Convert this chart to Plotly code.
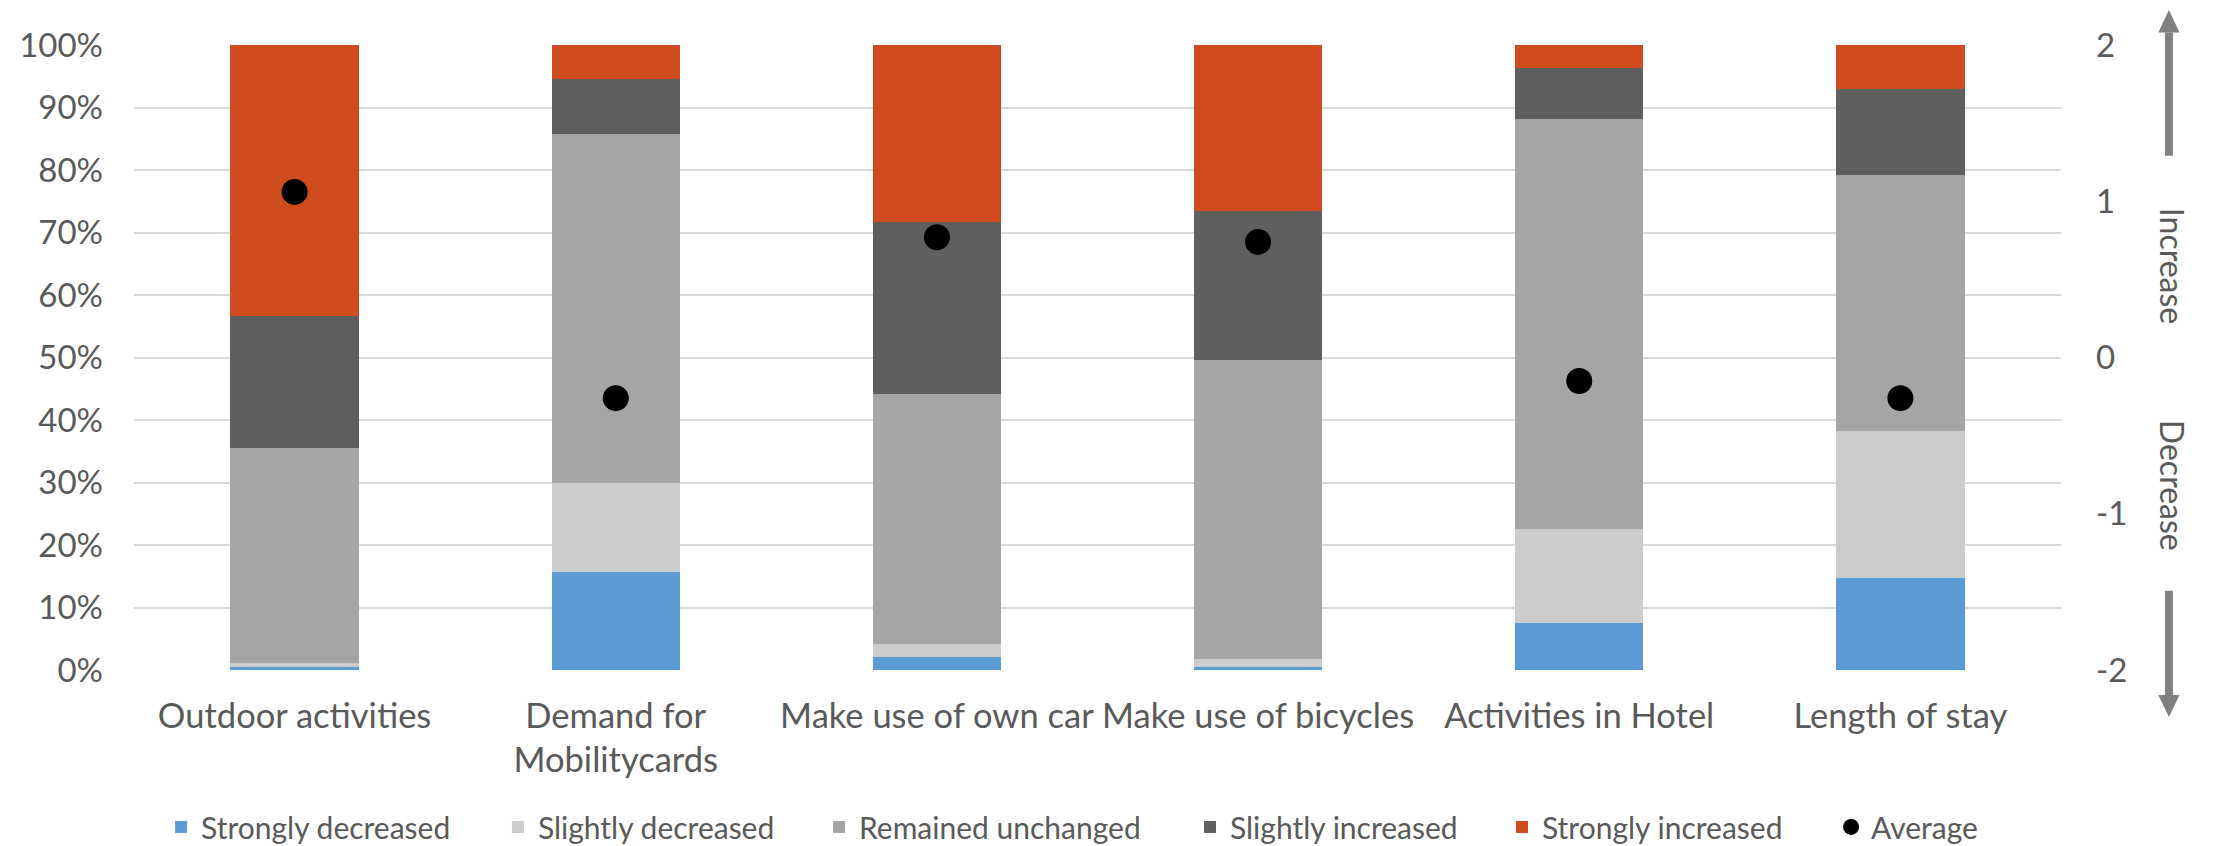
import plotly.graph_objects as go

# Survey categories and response shares (percent of respondents)
categories = ["Outdoor activities", "Demand for<br>Mobilitycards", "Make use of own car",
              "Make use of bicycles", "Activities in Hotel", "Length of stay"]
strongly_decreased = [0.5, 15.7, 2.1, 0.5, 7.6, 14.8]
slightly_decreased = [0.6, 14.3, 2.0, 1.2, 14.9, 23.4]
remained_unchanged = [34.5, 55.7, 40.1, 47.9, 65.6, 41.0]
slightly_increased = [21.0, 8.9, 27.5, 23.8, 8.2, 13.8]
strongly_increased = [43.4, 5.4, 28.3, 26.6, 3.7, 7.0]
# Mean score on a -2 (strongly decreased) .. +2 (strongly increased) scale
average = [1.06, -0.26, 0.77, 0.74, -0.15, -0.26]

left_ticks = [0, 10, 20, 30, 40, 50, 60, 70, 80, 90, 100]
left_tick_labels = ["0%", "10%", "20%", "30%", "40%", "50%", "60%", "70%", "80%", "90%", "100%"]
right_ticks = [-2, -1, 0, 1, 2]
right_tick_labels = ["-2", "-1", "0", "1", "2"]

FONT = "Lato, Open Sans, sans-serif"
TXT = "#595959"

series = [
    ("Strongly decreased", strongly_decreased, "#5B9BD5"),
    ("Slightly decreased", slightly_decreased, "#CBCCCB"),
    ("Remained unchanged", remained_unchanged, "#A5A5A5"),
    ("Slightly increased", slightly_increased, "#5F5F5F"),
    ("Strongly increased", strongly_increased, "#D04C1F"),
]

# One single-entry legend per trace, laid out in a row along the bottom
legend_ids = ["legend", "legend2", "legend3", "legend4", "legend5", "legend6"]
legend_x = [0.0727, 0.2247, 0.3696, 0.5370, 0.6778, 0.8263]

fig = go.Figure()
for (name, vals, color), lg in zip(series, legend_ids):
    fig.add_trace(go.Bar(x=categories, y=vals, name=name, showlegend=True,
                         marker=dict(color=color, line=dict(width=0)),
                         yaxis="y", legend=lg))

fig.add_trace(go.Scatter(x=categories, y=average, name="Average", mode="markers",
                         showlegend=True,
                         marker=dict(color="black", size=26), yaxis="y2",
                         legend=legend_ids[-1]))

# Direction arrows beside the right axis (paper coordinates)
ax = 1.056
arrow_color = "#808080"
shapes = [
    dict(type="line", xref="paper", yref="paper", x0=ax, x1=ax, y0=0.823, y1=1.02,
         line=dict(color=arrow_color, width=8)),
    dict(type="path", xref="paper", yref="paper",
         path=f"M {ax-0.0055},1.02 L {ax+0.0055},1.02 L {ax},1.056 Z",
         fillcolor=arrow_color, line=dict(width=0)),
    dict(type="line", xref="paper", yref="paper", x0=ax, x1=ax, y0=0.127, y1=-0.04,
         line=dict(color=arrow_color, width=8)),
    dict(type="path", xref="paper", yref="paper",
         path=f"M {ax-0.0055},-0.04 L {ax+0.0055},-0.04 L {ax},-0.075 Z",
         fillcolor=arrow_color, line=dict(width=0)),
]

annotations = [
    dict(text="Increase", xref="paper", yref="paper", x=ax + 0.002, y=0.647, showarrow=False,
         xanchor="center", yanchor="middle",
         textangle=90, font=dict(family=FONT, size=32, color=TXT)),
    dict(text="Decrease", xref="paper", yref="paper", x=ax + 0.002, y=0.295, showarrow=False,
         xanchor="center", yanchor="middle",
         textangle=90, font=dict(family=FONT, size=32, color=TXT)),
]

legends = {
    lg: dict(orientation="h", xref="container", yref="container",
             x=lx, xanchor="left", y=0.0225, yanchor="middle",
             font=dict(size=30, color=TXT), bgcolor="rgba(0,0,0,0)")
    for lg, lx in zip(legend_ids, legend_x)
}

fig.update_layout(
    width=2216, height=846, autosize=False,
    showlegend=True,
    margin=dict(l=134, r=155, t=45, b=176, autoexpand=False),
    paper_bgcolor="white", plot_bgcolor="white",
    barmode="stack", bargap=0.6,
    font=dict(family=FONT, color=TXT, size=30),
    xaxis=dict(showgrid=False, showline=False, ticks="", tickfont=dict(size=34.5, color=TXT),
               ticklabelstandoff=22, automargin=False),
    yaxis=dict(range=[0, 100], tickmode="array", tickvals=left_ticks, ticktext=left_tick_labels,
               showgrid=True, gridcolor="#D9D9D9", gridwidth=2, zeroline=False,
               showline=False, tickfont=dict(size=33, color=TXT), ticklabelstandoff=30,
               automargin=False),
    yaxis2=dict(range=[-2, 2], tickmode="array", tickvals=right_ticks, ticktext=right_tick_labels,
                overlaying="y", side="right",
                showgrid=False, zeroline=False, showline=False,
                tickfont=dict(size=33, color=TXT), ticklabelstandoff=34, automargin=False),
    shapes=shapes, annotations=annotations,
    **legends,
)

fig.write_html("out.html")
